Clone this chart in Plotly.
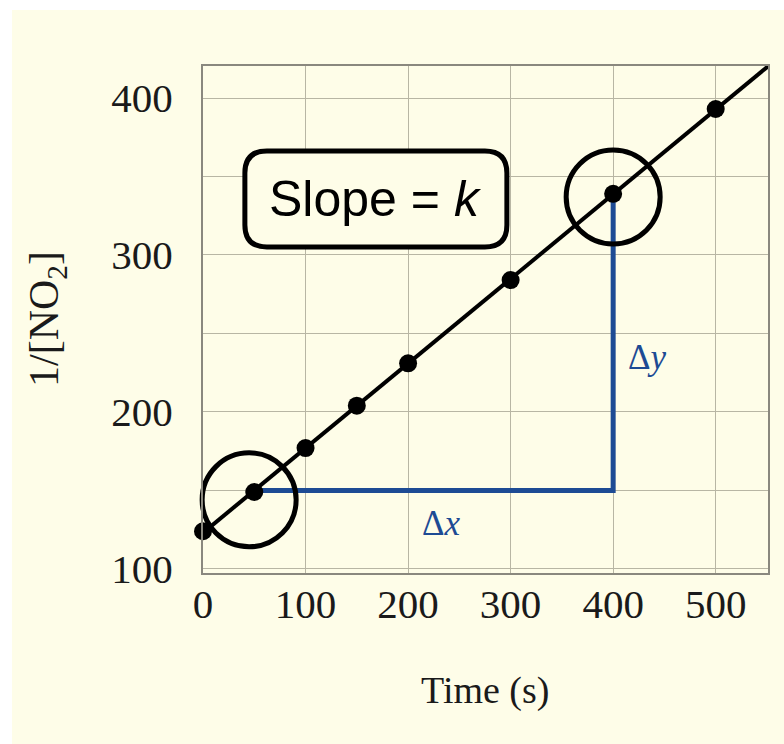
import numpy as np
import plotly.graph_objects as go

# Data
time_s = [0, 50, 100, 150, 200, 300, 400, 500]
inv_no2 = [124, 149, 177, 204, 231, 284, 339, 393]
x_ticks = [0, 100, 200, 300, 400, 500]
y_ticks = [100, 200, 300, 400]
highlight_x = [45, 400]
highlight_y = [144, 337]
tri_x = [50, 400, 400]
tri_y = [150, 150, 339]

X_RANGE = [0, 551]
Y_RANGE = [97.4, 420.4]

slope, intercept = np.polyfit(time_s, inv_no2, 1)
fit_x = np.array([X_RANGE[0] - 5, X_RANGE[1] + 5])
fit_y = slope * fit_x + intercept

BLUE = "#1d4b94"
CREAM = "#FEFDE8"
SERIF = "Liberation Serif, Times New Roman, serif"

fig = go.Figure()
fig.add_trace(go.Scatter(x=fit_x, y=fit_y, mode="lines",
                         line=dict(color="black", width=4), hoverinfo="skip"))
fig.add_trace(go.Scatter(x=tri_x, y=tri_y, mode="lines",
                         line=dict(color=BLUE, width=5)))
fig.add_trace(go.Scatter(x=time_s, y=inv_no2, mode="markers", cliponaxis=False,
                         marker=dict(color="black", size=18)))
fig.add_trace(go.Scatter(x=highlight_x, y=highlight_y, mode="markers", cliponaxis=False,
                         marker=dict(symbol="circle-open", size=94,
                                     color="black", line=dict(width=5, color="black"))))

# rounded box for slope label (pixel-sized around an anchor)
hw, hh, r = 131, 48, 22
path = (f"M {-hw + r},{-hh} L {hw - r},{-hh} Q {hw},{-hh} {hw},{-hh + r} "
        f"L {hw},{hh - r} Q {hw},{hh} {hw - r},{hh} L {-hw + r},{hh} "
        f"Q {-hw},{hh} {-hw},{hh - r} L {-hw},{-hh + r} Q {-hw},{-hh} {-hw + r},{-hh} Z")
box_cx, box_cy = 168.6, 335.7
fig.add_shape(type="path", path=path, xref="x", yref="y",
              xsizemode="pixel", ysizemode="pixel", xanchor=box_cx, yanchor=box_cy,
              line=dict(color="black", width=5), fillcolor=CREAM, layer="above")

# white strips at the image edges
fig.add_shape(type="rect", xref="paper", yref="paper", x0=-0.4, x1=(12 - 203) / 565,
              y0=-0.4, y1=1.2, fillcolor="white", line=dict(width=0), layer="below")
fig.add_shape(type="rect", xref="paper", yref="paper", x0=-0.4, x1=1.1,
              y0=(573 - 10) / 507, y1=1.2, fillcolor="white", line=dict(width=0), layer="below")

fig.add_annotation(x=box_cx, y=box_cy, xref="x", yref="y", text="Slope = <i>k</i>",
                   showarrow=False, xanchor="center", yanchor="middle",
                   font=dict(family="Liberation Sans, Arial, sans-serif",
                             size=50, color="black"))
fig.add_annotation(x=233, y=129, xref="x", yref="y", text="Δ<i>x</i>", showarrow=False,
                   xanchor="center", yanchor="middle",
                   font=dict(family=SERIF, size=35, color=BLUE))
fig.add_annotation(x=433, y=235, xref="x", yref="y", text="Δ<i>y</i>", showarrow=False,
                   xanchor="center", yanchor="middle",
                   font=dict(family=SERIF, size=35, color=BLUE))
fig.add_annotation(x=(485 - 203) / 565, y=(573 - 690) / 507, xref="paper", yref="paper",
                   text="Time (s)", showarrow=False, xanchor="center", yanchor="middle",
                   font=dict(family=SERIF, size=38, color="#1a1a1a"))
fig.add_annotation(x=(47 - 203) / 565, y=(573 - 319) / 507, xref="paper", yref="paper",
                   text="1/[NO<sub>2</sub>]", showarrow=False, textangle=-90,
                   xanchor="center", yanchor="middle",
                   font=dict(family=SERIF, size=42, color="#1a1a1a"))

fig.update_layout(
    width=784, height=744,
    margin=dict(l=203, r=16, t=66, b=171),
    paper_bgcolor=CREAM, plot_bgcolor=CREAM,
    showlegend=False,
    xaxis=dict(range=X_RANGE, tickvals=x_ticks, showgrid=True, gridcolor="#b8b6a4",
               gridwidth=1, zeroline=False, showline=True, linecolor="#8a887e",
               linewidth=2, mirror=True, ticks="", ticklabelstandoff=-6,
               tickfont=dict(family=SERIF, size=41, color="#1a1a1a")),
    yaxis=dict(range=Y_RANGE, tickvals=y_ticks, showgrid=True, gridcolor="#b8b6a4",
               gridwidth=1, zeroline=False, showline=True, linecolor="#8a887e",
               linewidth=2, mirror=True, ticks="", ticklabelstandoff=20,
               minor=dict(tickvals=[150, 250, 350], showgrid=True, gridcolor="#b8b6a4"),
               tickfont=dict(family=SERIF, size=41, color="#1a1a1a")),
)

fig.write_html("out.html")
